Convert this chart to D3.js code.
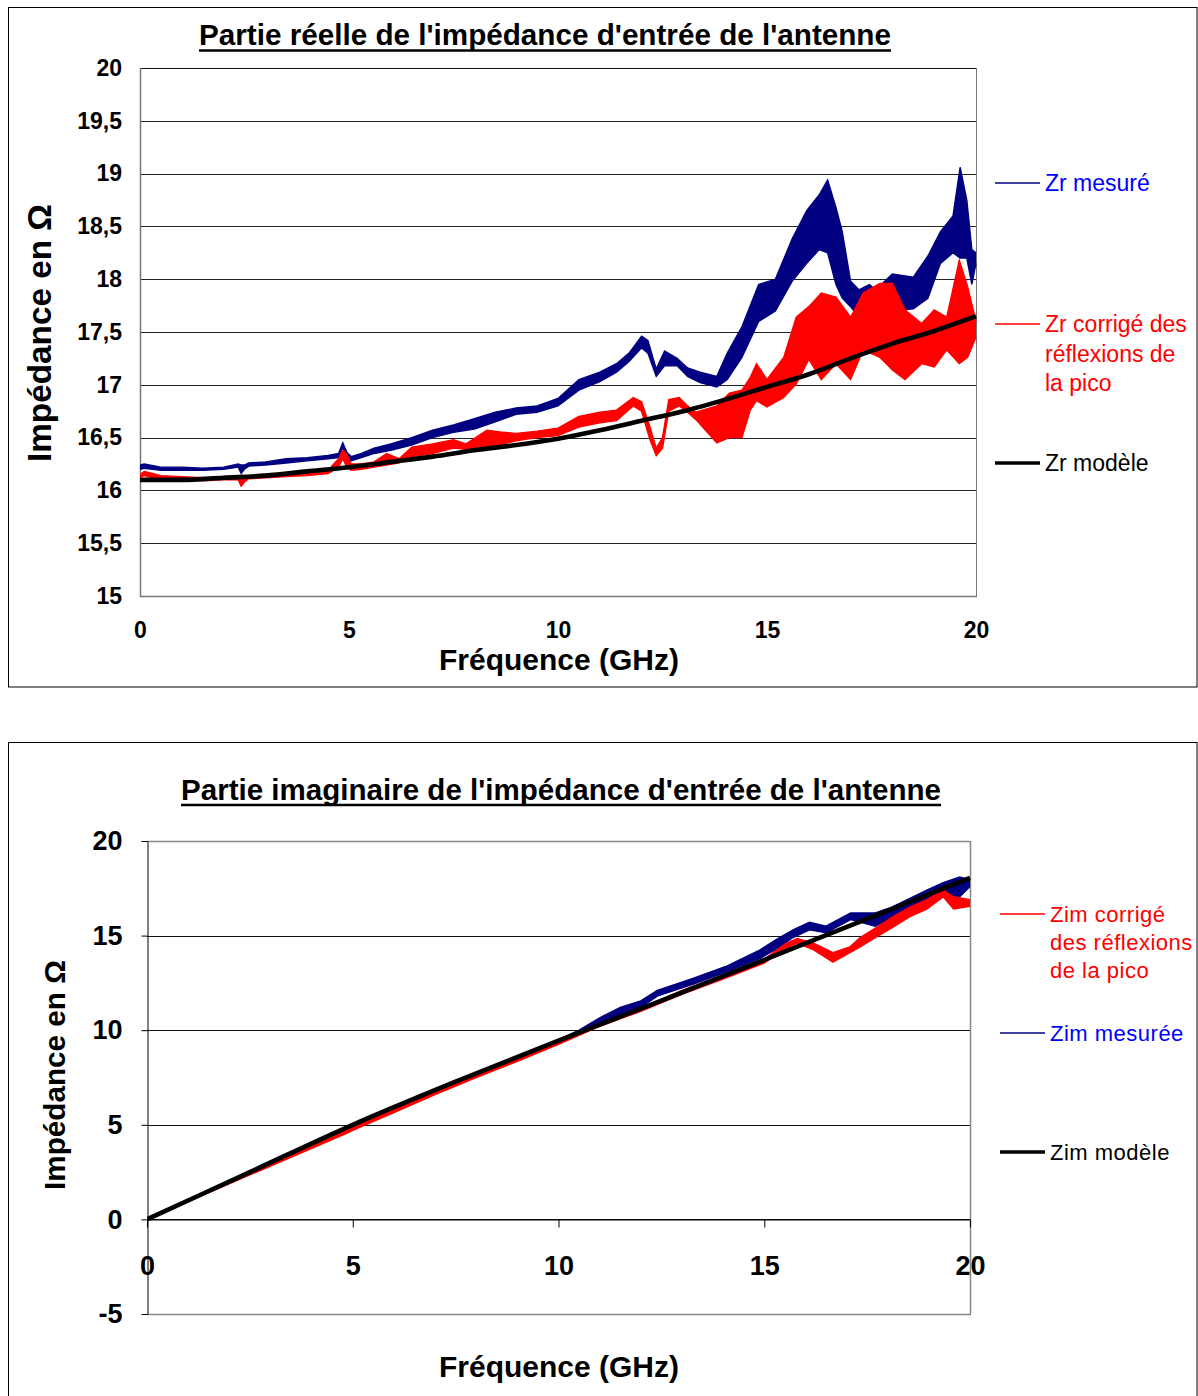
<!DOCTYPE html>
<html><head><meta charset="utf-8">
<script src="https://cdn.jsdelivr.net/npm/d3@7"></script>
<style>body{margin:0;background:#fff} svg{display:block} text{font-family:"Liberation Sans",Arial,Helvetica,sans-serif}</style>
</head><body><svg id="c" width="1198" height="1396"></svg>
<script>
// ---------- DATA : partie réelle ----------
const xTicks = [0, 5, 10, 15, 20];
const zrTicksY = [15, 15.5, 16, 16.5, 17, 17.5, 18, 18.5, 19, 19.5, 20];
const zimTicksY = [-5, 0, 5, 10, 15, 20];

const zrMesFreq = [0,0.1,0.5,1,1.5,2,2.35,2.42,2.5,2.6,3,3.5,4,4.5,4.75,4.85,4.95,5.05,5.3,5.6,6,6.5,7,7.5,8,8.5,9,9.5,10,10.5,11,11.4,11.7,12.0,12.15,12.35,12.55,12.85,13.1,13.4,13.8,14.05,14.4,14.8,15.2,15.6,15.95,16.25,16.45,16.65,16.8,17.0,17.2,17.45,17.6,18.0,18.5,18.85,19.15,19.45,19.62,19.78,19.9,20];
const zrMesLo   = [16.20,16.21,16.19,16.19,16.19,16.20,16.22,16.16,16.20,16.23,16.24,16.26,16.28,16.30,16.31,16.36,16.27,16.28,16.31,16.35,16.38,16.43,16.50,16.55,16.58,16.65,16.72,16.74,16.80,16.95,17.03,17.12,17.22,17.35,17.30,17.08,17.18,17.18,17.08,17.02,16.98,17.05,17.26,17.60,17.70,17.98,18.15,18.28,18.25,17.95,17.82,17.74,17.64,17.40,17.55,17.70,17.72,17.82,18.15,18.25,18.20,18.20,17.95,18.15];
const zrMesHi   = [16.24,16.25,16.22,16.22,16.21,16.22,16.25,16.24,16.24,16.26,16.27,16.30,16.31,16.33,16.35,16.45,16.36,16.32,16.35,16.40,16.44,16.50,16.57,16.62,16.68,16.74,16.78,16.80,16.87,17.05,17.12,17.20,17.30,17.46,17.42,17.15,17.32,17.25,17.16,17.12,17.08,17.30,17.55,17.95,18.00,18.38,18.65,18.80,18.94,18.68,18.45,17.98,17.90,17.95,17.90,18.05,18.02,18.22,18.45,18.60,19.06,18.75,18.28,18.25];

const zrCorFreq = [0,0.1,0.3,0.5,1,1.5,2,2.35,2.42,2.5,2.6,3,3.5,4,4.5,4.75,4.85,4.95,5.05,5.3,5.6,5.9,6.2,6.5,7,7.5,7.8,8.3,8.7,9,9.5,10,10.5,11,11.4,11.8,12.0,12.2,12.35,12.5,12.65,12.9,13.1,13.3,13.8,14.1,14.4,14.6,14.75,15.0,15.4,15.7,16.0,16.3,16.65,17.0,17.3,17.7,18.0,18.3,18.7,19.0,19.3,19.6,19.8,20];
const zrCorLo   = [16.12,16.14,16.12,16.11,16.10,16.09,16.10,16.10,16.04,16.08,16.11,16.12,16.13,16.14,16.16,16.22,16.30,16.22,16.19,16.20,16.22,16.24,16.26,16.32,16.35,16.40,16.39,16.41,16.44,16.47,16.50,16.52,16.60,16.64,16.66,16.80,16.75,16.48,16.33,16.40,16.75,16.80,16.74,16.67,16.45,16.50,16.50,16.76,16.85,16.79,16.88,17.01,17.24,17.05,17.20,17.05,17.33,17.26,17.14,17.05,17.20,17.17,17.33,17.20,17.26,17.45];
const zrCorHi   = [16.15,16.18,16.16,16.14,16.13,16.12,16.12,16.13,16.12,16.13,16.14,16.15,16.16,16.17,16.19,16.30,16.38,16.34,16.25,16.25,16.27,16.35,16.30,16.41,16.44,16.48,16.44,16.57,16.55,16.54,16.56,16.59,16.70,16.74,16.76,16.88,16.84,16.60,16.40,16.50,16.86,16.88,16.80,16.74,16.80,16.92,16.95,17.07,17.20,17.05,17.26,17.64,17.74,17.87,17.83,17.64,17.87,17.96,17.96,17.71,17.58,17.71,17.64,18.18,17.93,17.60];

const zrModFreq = [0,1,2,3,4,5,6,7,8,9,10,11,12,13,14,15,16,17,18,19,20];
const zrModVal  = [16.10,16.10,16.12,16.14,16.18,16.22,16.27,16.32,16.38,16.43,16.49,16.57,16.66,16.75,16.86,16.98,17.10,17.25,17.39,17.51,17.65];

// ---------- DATA : partie imaginaire ----------
const zimMesFreq = [0,2.5,5,6,7,7.5,8,9,10,10.5,11,11.5,12,12.4,12.8,13.3,14.1,14.9,15.3,15.7,16.1,16.5,17.1,17.7,18.1,18.95,19.35,19.75,20];
const zimMesLo   = [0,2.40,4.85,5.75,6.75,7.10,7.55,8.40,9.35,9.85,10.35,10.80,11.20,11.80,12.10,12.45,13.10,13.80,14.30,14.90,15.30,15.15,15.85,15.50,15.95,16.50,17.05,17.05,17.60];
const zimMesHi   = [0.05,2.50,4.98,5.90,6.90,7.25,7.70,8.55,9.50,10.00,10.65,11.20,11.55,12.10,12.40,12.77,13.40,14.25,14.80,15.30,15.70,15.50,16.20,16.20,16.50,17.40,17.80,18.10,17.95];

const zimCorFreq = [0,2.5,4.85,5,6,7,7.5,8,9,10,11,12,13,14,15,15.5,15.8,16.2,16.67,17.08,17.33,17.74,18.13,18.54,18.95,19.35,19.6,20];
const zimCorLo   = [0,2.35,4.55,4.70,5.65,6.60,7.05,7.50,8.35,9.25,10.20,11.00,11.90,12.70,13.55,14.30,14.60,14.25,13.60,14.10,14.40,14.95,15.45,16.00,16.40,17.05,16.40,16.55];
const zimCorHi   = [0.05,2.45,4.70,4.85,5.80,6.75,7.20,7.65,8.50,9.40,10.35,11.15,12.10,12.90,13.75,14.55,14.85,14.60,14.10,14.40,14.90,15.45,16.00,16.50,16.90,17.40,17.05,16.90];

const zimModFreq = [0,2.5,5,7.5,10,12.5,15,17.5,20];
const zimModVal  = [0,2.50,5.00,7.28,9.45,11.56,13.72,15.88,18.05];

// ---------- helpers ----------
const svg = d3.select("#c");
const NAVY = "#000080", RED = "#ff0000", BLUE_TXT = "#0000ff";
const fmtFr = d => String(d).replace(".", ",");

function fitText(sel, w) {
  const n = sel.node(); const fs = parseFloat(sel.attr("font-size"));
  const len = n.getComputedTextLength();
  sel.attr("font-size", (fs * w / len).toFixed(2));
}

function drawBand(g, x, y, freq, lo, hi, color) {
  const pts = freq.map((f, i) => ({f, lo: lo[i], hi: hi[i]}));
  g.append("path").datum(pts)
    .attr("d", d3.area().x(d => x(d.f)).y0(d => y(d.lo)).y1(d => y(d.hi)))
    .attr("fill", color).attr("stroke", "none");
  g.append("path").datum(pts)
    .attr("d", d3.line().x(d => x(d.f)).y(d => y(d.lo)))
    .attr("fill", "none").attr("stroke", color).attr("stroke-width", 1.4);
  g.append("path").datum(pts)
    .attr("d", d3.line().x(d => x(d.f)).y(d => y(d.hi)))
    .attr("fill", "none").attr("stroke", color).attr("stroke-width", 1.4);
}
function drawModel(g, x, y, freq, val) {
  g.append("path").datum(freq.map((f, i) => [f, val[i]]))
    .attr("d", d3.line().x(d => x(d[0])).y(d => y(d[1])).curve(d3.curveMonotoneX))
    .attr("fill", "none").attr("stroke", "#000").attr("stroke-width", 4.6);
}
function title(txt, cx, cy, w, ulY) {
  const t = svg.append("text").attr("x", cx).attr("y", cy).attr("text-anchor", "middle")
    .attr("font-weight", "bold").attr("font-size", 24).text(txt);
  fitText(t, w);
  svg.append("line").attr("x1", cx - w / 2).attr("x2", cx + w / 2).attr("y1", ulY).attr("y2", ulY)
    .attr("stroke", "#000").attr("stroke-width", 2.6);
}
function legend(x1, x2, y, color, txtColor, lines, lw, fs, lh) {
  svg.append("line").attr("x1", x1).attr("x2", x2).attr("y1", y).attr("y2", y)
    .attr("stroke", color).attr("stroke-width", lw);
  const t = svg.append("text").attr("x", x2 + 5).attr("y", y + fs * 0.36)
    .attr("font-size", fs).attr("fill", txtColor);
  lines.forEach((l, i) => t.append("tspan").attr("x", x2 + 5).attr("dy", i ? lh : 0).text(l));
}

// ---------- frames ----------
svg.append("rect").attr("x", 8.5).attr("y", 7.5).attr("width", 1188.5).attr("height", 679.5)
  .attr("fill", "none").attr("stroke", "#000");
svg.append("rect").attr("x", 8.5).attr("y", 742.5).attr("width", 1188.5).attr("height", 660)
  .attr("fill", "none").attr("stroke", "#000");

// ---------- chart 1 ----------
{
  const x = d3.scaleLinear().domain([0, 20]).range([140, 976]);
  const y = d3.scaleLinear().domain([15, 20]).range([596, 68]);
  const g = svg.append("g");
  g.selectAll(".grid").data(zrTicksY.filter(d => d > 15 && d < 20)).join("line")
    .attr("x1", 140).attr("x2", 976).attr("y1", d => Math.round(y(d)) + 0.5).attr("y2", d => Math.round(y(d)) + 0.5)
    .attr("stroke", "#222").attr("stroke-width", 1);
  g.append("line").attr("x1", 140).attr("x2", 976).attr("y1", 68.5).attr("y2", 68.5).attr("stroke", "#111");
  g.append("line").attr("x1", 976.5).attr("x2", 976.5).attr("y1", 68).attr("y2", 596).attr("stroke", "#777");
  g.append("line").attr("x1", 140).attr("x2", 977).attr("y1", 596.5).attr("y2", 596.5).attr("stroke", "#777").attr("stroke-width", 1.5);
  g.append("line").attr("x1", 140.5).attr("x2", 140.5).attr("y1", 68).attr("y2", 597).attr("stroke", "#777").attr("stroke-width", 1.5);

  svg.append("clipPath").attr("id", "clip1").append("rect").attr("x", 140).attr("y", 68).attr("width", 838).attr("height", 528);
  const d = svg.append("g").attr("clip-path", "url(#clip1)");
  drawBand(d, x, y, zrMesFreq, zrMesLo, zrMesHi, NAVY);
  drawBand(d, x, y, zrCorFreq, zrCorLo, zrCorHi, RED);
  drawModel(d, x, y, zrModFreq, zrModVal);

  const ay = svg.append("g").attr("transform", "translate(122,0)")
    .call(d3.axisLeft(y).tickValues(zrTicksY).tickSize(0).tickPadding(0).tickFormat(fmtFr));
  ay.select(".domain").remove();
  ay.selectAll("text").attr("font-size", 23).attr("font-weight", "bold").attr("fill", "#000")
    .attr("font-family", '"Liberation Sans",Arial,sans-serif');
  const ax = svg.append("g").attr("transform", "translate(0,622)")
    .call(d3.axisBottom(x).tickValues(xTicks).tickSize(0).tickPadding(0));
  ax.select(".domain").remove();
  ax.selectAll("text").attr("font-size", 23).attr("font-weight", "bold").attr("fill", "#000")
    .attr("font-family", '"Liberation Sans",Arial,sans-serif');

  title("Partie réelle de l'impédance d'entrée de l'antenne", 545, 45, 692, 50.5);
  const xt = svg.append("text").attr("x", 559).attr("y", 670).attr("text-anchor", "middle")
    .attr("font-weight", "bold").attr("font-size", 27).text("Fréquence (GHz)");
  fitText(xt, 240);
  const yt = svg.append("text").attr("transform", "translate(51,333) rotate(-90)").attr("text-anchor", "middle")
    .attr("font-weight", "bold").attr("font-size", 28).text("Impédance en Ω");
  fitText(yt, 258);

  legend(995, 1040, 183, NAVY, BLUE_TXT, ["Zr mesuré"], 1.5, 23, 29.5);
  legend(995, 1040, 324, RED, RED, ["Zr corrigé des", "réflexions de", "la pico"], 1.5, 23, 29.5);
  legend(995, 1040, 463, "#000", "#000", ["Zr modèle"], 3.5, 23, 29.5);
}

// ---------- chart 2 ----------
{
  const x = d3.scaleLinear().domain([0, 20]).range([147, 970]);
  const y = d3.scaleLinear().domain([-5, 20]).range([1314, 841]);
  const g = svg.append("g");
  g.selectAll(".grid").data(zimTicksY.filter(d => d > -5 && d < 20)).join("line")
    .attr("x1", 147).attr("x2", 970).attr("y1", d => Math.round(y(d)) + 0.5).attr("y2", d => Math.round(y(d)) + 0.5)
    .attr("stroke", "#111").attr("stroke-width", 1);
  g.append("line").attr("x1", 147).attr("x2", 970).attr("y1", 841.5).attr("y2", 841.5).attr("stroke", "#888").attr("stroke-width", 1.5);
  g.append("line").attr("x1", 970.5).attr("x2", 970.5).attr("y1", 841).attr("y2", 1314).attr("stroke", "#888").attr("stroke-width", 1.5);
  g.append("line").attr("x1", 147).attr("x2", 971).attr("y1", 1314.5).attr("y2", 1314.5).attr("stroke", "#888").attr("stroke-width", 1.5);

  svg.append("clipPath").attr("id", "clip2").append("rect").attr("x", 147).attr("y", 841).attr("width", 826).attr("height", 473);
  const d = svg.append("g").attr("clip-path", "url(#clip2)");
  drawBand(d, x, y, zimMesFreq, zimMesLo, zimMesHi, NAVY);
  drawBand(d, x, y, zimCorFreq, zimCorLo, zimCorHi, RED);
  drawModel(d, x, y, zimModFreq, zimModVal);

  // y axis with ticks
  const ay = svg.append("g").attr("transform", "translate(147.5,0)")
    .call(d3.axisLeft(y).tickValues(zimTicksY).tickSize(6).tickSizeOuter(0).tickPadding(19).tickFormat(d => String(d)));
  ay.select(".domain").attr("stroke", "#000");
  ay.selectAll("line").attr("stroke", "#000");
  ay.selectAll("text").attr("font-size", 27).attr("font-weight", "bold").attr("fill", "#000")
    .attr("font-family", '"Liberation Sans",Arial,sans-serif');
  // x axis at zero
  const ax = svg.append("g").attr("transform", `translate(0,${Math.round(y(0)) + 0.5})`)
    .call(d3.axisBottom(x).tickValues(xTicks).tickSize(8).tickSizeOuter(0).tickPadding(28).tickFormat(d => String(d)));
  ax.select(".domain").attr("stroke", "#000");
  ax.selectAll("line").attr("stroke", "#000");
  ax.selectAll("text").attr("font-size", 27).attr("font-weight", "bold").attr("fill", "#000")
    .attr("font-family", '"Liberation Sans",Arial,sans-serif');

  title("Partie imaginaire de l'impédance d'entrée de l'antenne", 561, 800, 760, 805);
  const xt = svg.append("text").attr("x", 559).attr("y", 1377).attr("text-anchor", "middle")
    .attr("font-weight", "bold").attr("font-size", 27).text("Fréquence (GHz)");
  fitText(xt, 240);
  const yt = svg.append("text").attr("transform", "translate(65,1075) rotate(-90)").attr("text-anchor", "middle")
    .attr("font-weight", "bold").attr("font-size", 26).text("Impédance en Ω");
  fitText(yt, 230);

  legend(1000, 1045, 914, RED, RED, ["Zim corrigé", "des réflexions", "de la pico"], 1.5, 22, 28);
  legend(1000, 1045, 1033, NAVY, BLUE_TXT, ["Zim mesurée"], 1.5, 22, 28);
  legend(1000, 1045, 1152, "#000", "#000", ["Zim modèle"], 3.5, 22, 28);
  svg.selectAll("text").filter(function(){ return this.textContent.startsWith("Zim"); })
    .attr("letter-spacing", 0.5);
}
</script></body></html>
